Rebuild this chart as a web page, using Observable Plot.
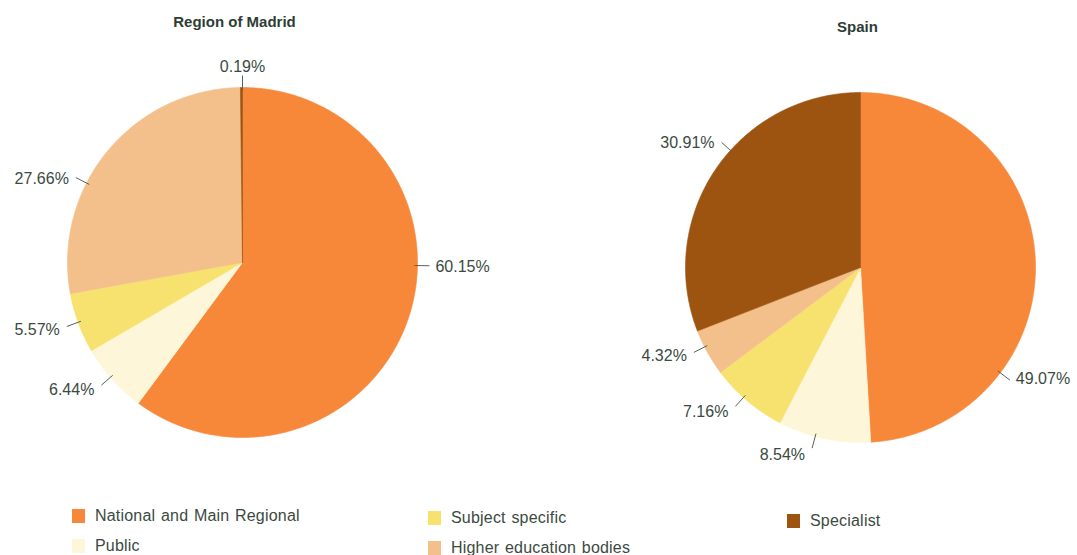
<!DOCTYPE html>
<html>
<head>
<meta charset="utf-8">
<script src="https://cdn.jsdelivr.net/npm/d3@7"></script>
<script src="https://cdn.jsdelivr.net/npm/@observablehq/plot@0.6"></script>
<style>
  html, body { margin: 0; padding: 0; background: #fff; }
  body { width: 1077px; height: 555px; overflow: hidden; font-family: "Liberation Sans", Arial, sans-serif; }
  #legend { position: relative; width: 1077px; height: 60px; }
  .item { position: absolute; display: flex; align-items: center; font-size: 16px; color: #3b4a41; letter-spacing: 0.2px; word-spacing: 1px; white-space: nowrap; }
  .sw { width: 13px; height: 14px; margin-right: 10px; display: inline-block; }
</style>
</head>
<body>
<div id="chart"></div>
<div id="legend"></div>
<script>
// ---------- DATA ----------
const categories = ["National and Main Regional", "Public", "Subject specific", "Higher education bodies", "Specialist"];
const madridValues = [60.15, 6.44, 5.57, 27.66, 0.19];
const spainValues  = [49.07, 8.54, 7.16, 4.32, 30.91];
const madridLabels = ["60.15%", "6.44%", "5.57%", "27.66%", "0.19%"];
const spainLabels  = ["49.07%", "8.54%", "7.16%", "4.32%", "30.91%"];
const chartTitles  = ["Region of Madrid", "Spain"];

// ---------- STYLE / LAYOUT ----------
const colors = ["#F7883A", "#FDF6D9", "#F8E26F", "#F3C08B", "#9D5411"];
const W = 1077, H = 495;
const layout = [
  {cx: 242, cy: 262, r: 175, tx: 234, ty: 22, labelAngles: [91, 229, 250, 297, 0]},
  {cx: 860, cy: 267, r: 175, tx: 857, ty: 27, labelAngles: [127, 195, 222, 243, 312]}
];
const series = [
  {title: chartTitles[0], values: madridValues, labels: madridLabels},
  {title: chartTitles[1], values: spainValues, labels: spainLabels}
];

const polys = [], leaders = [], texts = [], titles = [];
series.forEach((s, si) => {
  const L = layout[si];
  const arcs = d3.pie().sort(null).value(d => d)(s.values);
  arcs.forEach((a, i) => {
    const key = si + "-" + i;
    const pts = [[L.cx, L.cy]];
    const n = Math.max(2, Math.ceil((a.endAngle - a.startAngle) / 0.01));
    for (let k = 0; k <= n; k++) {
      const t = a.startAngle + (a.endAngle - a.startAngle) * k / n;
      pts.push([L.cx + L.r * Math.sin(t), L.cy - L.r * Math.cos(t)]);
    }
    pts.push([L.cx, L.cy]);
    pts.forEach(p => polys.push({key, cat: categories[i], x: p[0], y: p[1]}));
    const ang = L.labelAngles[i] * Math.PI / 180;
    const dx = Math.sin(ang), dy = -Math.cos(ang);
    const ox = L.cx + (L.r + 12) * dx, oy = L.cy + (L.r + 12) * dy;
    leaders.push({x1: L.cx + (L.r - 3) * dx, y1: L.cy + (L.r - 3) * dy, x2: ox, y2: oy});
    let anchor, tx, ty;
    if (Math.abs(dx) < 0.2 && dy < 0) { anchor = "middle"; tx = ox; ty = oy - 9; }
    else if (dx > 0) { anchor = "start"; tx = ox + 6; ty = oy + 1 - 4 * Math.max(0, dy); }
    else { anchor = "end"; tx = ox - 7; ty = oy + 1 + 6 * Math.max(0, dy); }
    texts.push({x: tx, y: ty, text: s.labels[i], anchor});
  });
  titles.push({x: L.tx, y: L.ty, text: s.title});
});

const chart = Plot.plot({
  width: W, height: H,
  margin: 0,
  x: {domain: [0, W], range: [0, W], axis: null},
  y: {domain: [0, H], range: [0, H], axis: null},
  color: {domain: categories, range: colors},
  style: {fontFamily: "'Liberation Sans', Arial, sans-serif", background: "#fff"},
  marks: [
    Plot.line(polys, {x: "x", y: "y", z: "key", fill: "cat", stroke: "cat", strokeWidth: 0.6, curve: "linear"}),
    Plot.link(leaders, {x1: "x1", y1: "y1", x2: "x2", y2: "y2", stroke: "#55655b", strokeWidth: 1}),
    Plot.text(texts.filter(d => d.anchor === "start"), {x: "x", y: "y", text: "text", textAnchor: "start", fontSize: 16, fill: "#3b4a41"}),
    Plot.text(texts.filter(d => d.anchor === "end"), {x: "x", y: "y", text: "text", textAnchor: "end", fontSize: 16, fill: "#3b4a41"}),
    Plot.text(texts.filter(d => d.anchor === "middle"), {x: "x", y: "y", text: "text", textAnchor: "middle", fontSize: 16, fill: "#3b4a41"}),
    Plot.text(titles, {x: "x", y: "y", text: "text", fontSize: 15, fontWeight: "bold", fill: "#2e3d34", letterSpacing: "0.6px", wordSpacing: "3px"})
  ]
});
document.getElementById("chart").appendChild(chart);

// legend (column-major, 2 rows)
const legendPos = [[72, 516], [72, 546], [428, 518], [428, 548], [787, 521]];
const leg = document.getElementById("legend");
categories.forEach((c, i) => {
  const d = document.createElement("div");
  d.className = "item";
  d.style.left = legendPos[i][0] + "px";
  d.style.top = (legendPos[i][1] - H - 9) + "px";
  d.innerHTML = `<span class="sw" style="background:${colors[i]}"></span><span>${c}</span>`;
  leg.appendChild(d);
});
</script>
</body>
</html>
